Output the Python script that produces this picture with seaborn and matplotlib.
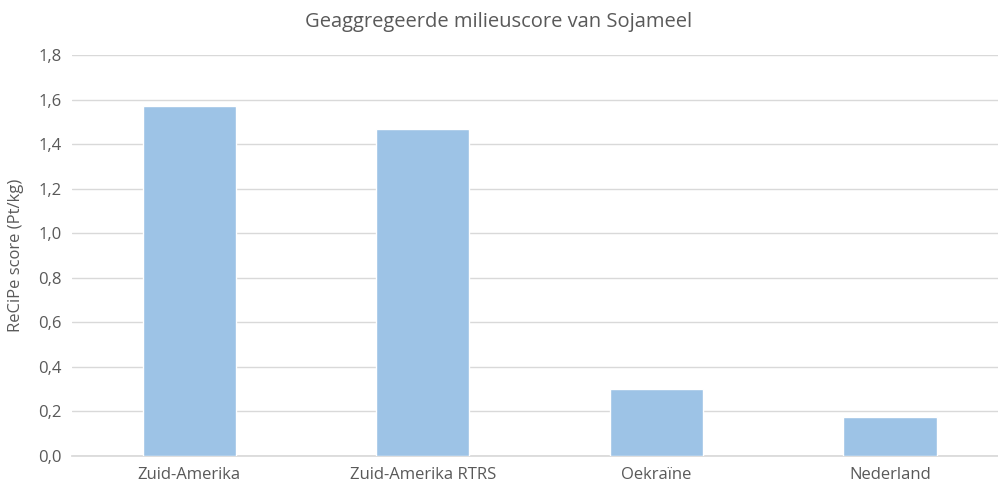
import matplotlib
matplotlib.use("Agg")
import matplotlib.pyplot as plt
import seaborn as sns
import pandas as pd

categories = ["Zuid-Amerika", "Zuid-Amerika RTRS", "Oekraïne", "Nederland"]
values = [1.57, 1.47, 0.30, 0.175]
yticks = [0.0, 0.2, 0.4, 0.6, 0.8, 1.0, 1.2, 1.4, 1.6, 1.8]

sns.set_theme(style="white")
plt.rcParams['font.family'] = ['Open Sans', 'DejaVu Sans']

df = pd.DataFrame({"cat": categories, "val": values})
fig = plt.figure(figsize=(9.98, 4.87), dpi=100)
ax = fig.add_axes([0.0726, 0.0637, 0.936, 0.8233])
sns.barplot(data=df, x="cat", y="val", color="#9DC3E6", saturation=1, width=0.4, ax=ax, zorder=3)
ax.set_xlim(-0.5, 3.5)
ax.set_ylim(0, 1.8)
ax.set_yticks(yticks)
ax.set_yticklabels([f"{t:.1f}".replace(".", ",") for t in yticks])
ax.grid(axis="y", color="#D9D9D9", linewidth=1, zorder=0)
for s in ["top", "right", "left"]:
    ax.spines[s].set_visible(False)
ax.spines["bottom"].set_color("#D9D9D9")
ax.tick_params(axis="both", colors="#595959", labelsize=12, length=0, pad=8)
ax.set_xlabel("")
ax.set_ylabel("ReCiPe score (Pt/kg)", color="#595959", fontsize=12, labelpad=10)
fig.suptitle("Geaggregeerde milieuscore van Sojameel", color="#595959", fontsize=14.5, y=0.975)
fig.savefig("out.png", dpi=100)
